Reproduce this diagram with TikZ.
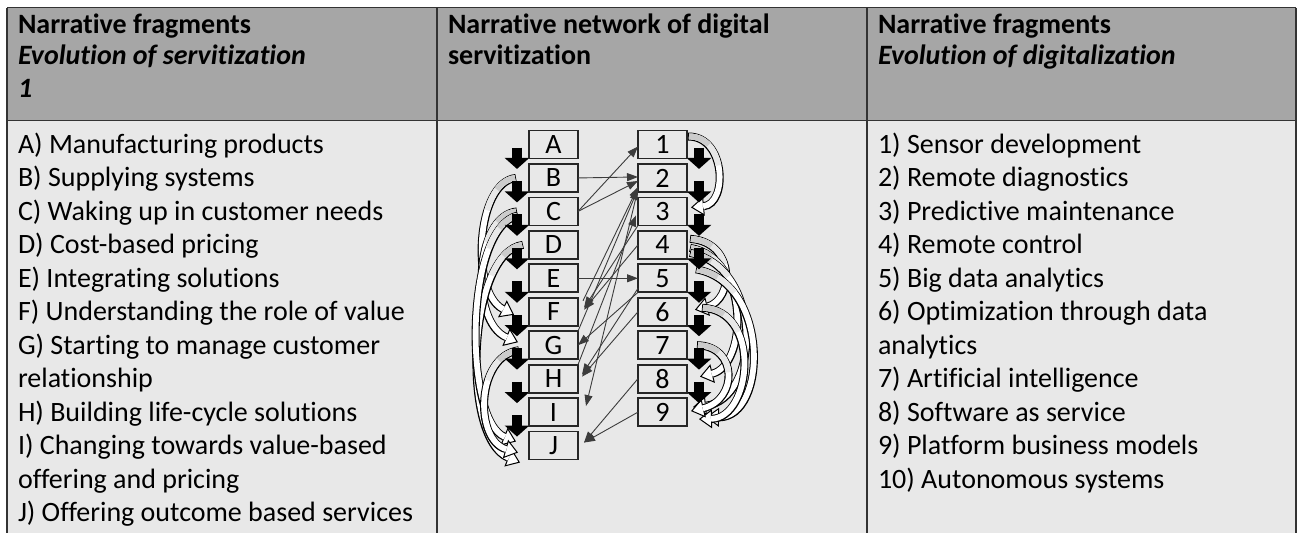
\documentclass[tikz,border=0pt]{standalone}
\usepackage{fontspec}
\setmainfont{Carlito}[Ligatures={NoCommon,NoContextual}]
\usetikzlibrary{arrows.meta,calc}
\definecolor{headgray}{HTML}{A6A6A6}
\definecolor{bodygray}{HTML}{E8E8E8}
\definecolor{rulegray}{HTML}{333333}
\definecolor{linkgray}{HTML}{3C3C3C}
\pgfdeclarelayer{table}
\pgfdeclarelayer{back}
\pgfsetlayers{table,back,main}
% fat outlined curved arrow: black outline, white body, grey tail
\newcommand\fatcurve[4]{%
  \draw[fatouter] #1 .. controls #2 and #3 .. #4;
  \draw[fatinner=white] #1 .. controls #2 and #3 .. #4;
  \draw[fatinner=gray!18, dash pattern=on 45pt off 2000pt] #1 .. controls #2 and #3 .. #4;
  \draw[fatinner=gray!40, dash pattern=on 22pt off 2000pt] #1 .. controls #2 and #3 .. #4;
}
\begin{document}
\begin{tikzpicture}[x=1pt,y=-1pt,
  every node/.style={inner sep=0pt, outer sep=0pt, font=\fontsize{28}{33.5}\selectfont},
  txt/.style={anchor=base west},
  fragbox/.style={draw=black!85, line width=1.8pt, fill=bodygray, minimum width=49pt, minimum height=28pt},
  rule/.style={draw=rulegray, line width=1.6pt},
  seqarrow/.style={draw=black, line width=10.5pt, -{Triangle[width=24pt,length=11pt]}},
  link/.style={draw=linkgray, line width=0.9pt, -{Triangle[width=8pt,length=11pt]}},
  fatouter/.style={draw=black, line width=8pt, -{Triangle[width=19pt,length=13pt,line width=1pt,fill=white]}},
  fatinner/.style={draw=#1, line width=5.8pt, shorten >=12pt, shorten <=1pt}]
\useasboundingbox (0,0) rectangle (1298,533);

% table background and rules
\begin{pgfonlayer}{table}
\fill[white] (0,0) rectangle (1298,533);
\fill[headgray] (7,7.5) rectangle (1296,120.5);
\fill[bodygray] (7,120.5) rectangle (1296,533);
\draw[rule] (7,7.5) -- (1296,7.5);
\draw[rule] (7,120.5) -- (1296,120.5);
\foreach \x in {7,437,867,1296} \draw[rule] (\x,7.5) -- (\x,533);
\end{pgfonlayer}

% headers
\node[txt] (h1a) at (18,33) {\bfseries Narrative fragments};
\node[txt] (h1b) at (18,64.5) {\bfseries\itshape Evolution of servitization};
\node[txt] (h1c) at (18,97) {\bfseries\itshape 1};
\node[txt] (h2a) at (448,33) {\bfseries Narrative network of digital};
\node[txt] (h2b) at (448,64.5) {\bfseries servitization};
\node[txt] (h3a) at (878,33) {\bfseries Narrative fragments};
\node[txt] (h3b) at (878,64.5) {\bfseries\itshape Evolution of digitalization};

% fragment lists
\foreach \t [count=\i] in {A) Manufacturing products,B) Supplying systems,C) Waking up in customer needs,D) Cost-based pricing,E) Integrating solutions,F) Understanding the role of value,G) Starting to manage customer,relationship,H) Building life-cycle solutions,I) Changing towards value-based,offering and pricing,J) Offering outcome based services}
  \node[txt] (l\i) at (18,{153+33.5*(\i-1)}) {\t};
\foreach \t [count=\i] in {1) Sensor development,2) Remote diagnostics,3) Predictive maintenance,4) Remote control,5) Big data analytics,6) Optimization through data,analytics,7) Artificial intelligence,8) Software as service,9) Platform business models,10) Autonomous systems}
  \node[txt] (r\i) at (878,{153+33.5*(\i-1)}) {\t};

% network boxes
\foreach \n [count=\i] in {A,B,C,D,E,F,G,H,I,J}
  \node[fragbox] (\n) at (553.5,{144.5+33.45*(\i-1)}) {\n};
\foreach \i in {1,...,9}
  \node[fragbox] (n\i) at (662.5,{144.5+33.45*(\i-1)}) {\i};

\begin{pgfonlayer}{back}
% curved arrows, servitization side
\fatcurve{($(B.west)+(-13,0)$)}{(476,182)}{(470,292)}{($(F.west)+(-15,3)$)}
\fatcurve{($(C.west)+(-12,0)$)}{(474,216)}{(470,322)}{($(G.west)+(-11,-3)$)}
\fatcurve{($(D.west)+(-6,0)$)}{(468,252)}{(460,438)}{($(J.west)+(-9,17)$)}
\fatcurve{($(C.west)+(-11,4)$)}{(464,228)}{(464,420)}{($(J.west)+(-13,-4)$)}
\fatcurve{($(G.west)+(-10,5)$)}{(476,356)}{(474,440)}{($(J.west)+(-11,7)$)}

% curved arrows, digitalization side
\fatcurve{($(n1.east)+(1,-8)$)}{(726,136)}{(728,204)}{($(n3.east)+(4,-4)$)}
\fatcurve{($(n4.east)+(3,-6)$)}{(736,242)}{(734,300)}{($(n6.east)+(8,-2)$)}
\fatcurve{($(n4.east)+(3,3)$)}{(750,258)}{(748,365)}{($(n8.east)+(13,-2)$)}
\fatcurve{($(n4.east)+(3,8)$)}{(765,268)}{(760,400)}{($(n9.east)+(6,-5)$)}
\fatcurve{($(n5.east)+(9,-9)$)}{(770,282)}{(768,418)}{($(n9.east)+(19,5)$)}
\fatcurve{($(n6.east)+(15,-4)$)}{(762,310)}{(752,418)}{($(n9.east)+(12,7)$)}
\fatcurve{($(n7.east)+(10,0)$)}{(738,346)}{(738,400)}{($(n9.east)+(4,-1)$)}

% sequence arrows
\foreach \a/\b in {A/B,B/C,C/D,D/E,E/F,F/G,G/H,H/I,I/J}
  \draw[seqarrow] ($(\a.west)+(-12,3)$) -- ($(\b.west)+(-12,-9)$);
\foreach \a/\b in {n1/n2,n2/n3,n3/n4,n4/n5,n5/n6,n6/n7,n7/n8,n8/n9}
  \draw[seqarrow] ($(\a.east)+(12,3)$) -- ($(\b.east)+(12,-9)$);
\end{pgfonlayer}

% links between the two narratives
\draw[link] (C.east) -- ($(n1.west)+(0,2)$);
\draw[link] (B.east) -- ($(n2.west)+(0,-1)$);
\draw[link] (C.east) -- ($(n2.west)+(0,3)$);
\draw[link] (E.east) -- (n5.west);
\draw[link] ($(F.north east)+(5,3)$) -- ($(n2.south west)+(0,-5)$);
\draw[link] (G.north east) -- ($(n2.south west)+(0,-3)$);
\draw[link] (H.north east) -- ($(n3.west)+(-2,4)$);
\draw[link] ($(n2.south west)+(0,-3)$) -- ($(I.east)+(8,-6)$);
\draw[link] (n3.south west) -- ($(F.east)+(6,-4)$);
\draw[link] (n4.west) -- ($(F.east)+(6,-2)$);
\draw[link] (n5.south west) -- (G.east);
\draw[link] ($(n5.south west)+(0,-4)$) -- ($(H.east)+(4,-4)$);
\draw[link] (n6.west) -- ($(H.east)+(4,-2)$);
\draw[link] (n8.west) -- ($(J.east)+(6,-3)$);
\draw[link] (n9.west) -- ($(J.east)+(6,-3)$);
\end{tikzpicture}
\end{document}
